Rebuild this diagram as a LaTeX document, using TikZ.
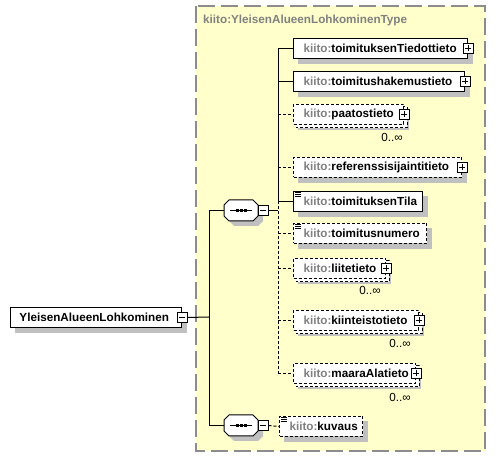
\documentclass[tikz,border=0pt]{standalone}
\usepackage{fontspec}
\setmainfont{Liberation Sans}
\usetikzlibrary{calc}
\definecolor{bgyellow}{HTML}{FFFFCC}
\definecolor{kgray}{HTML}{808080}
\definecolor{shadowc}{HTML}{C0C0C0}
\definecolor{frameg}{HTML}{8C8C8C}
\pgfdeclarelayer{back}
\pgfdeclarelayer{mid}
\pgfsetlayers{back,mid,main}
\newcommand\kel[2]{\hbox to #1pt{\hskip 10pt{\color{kgray}kiito:}#2\hfil}}
\newcommand\shd[1]{\begin{pgfonlayer}{mid}\fill[shadowc] ([shift={(5,5)}]#1.north west) rectangle ([shift={(5,5)}]#1.south east);\end{pgfonlayer}}
\newcommand\stk[1]{\begin{pgfonlayer}{mid}\fill[shadowc] ([shift={(5,5)}]#1.north west) rectangle ([shift={(5,5)}]#1.south east);
  \draw[line width=1pt, dash pattern=on 3pt off 2pt, fill=white] ([shift={(3,3)}]#1.north west) rectangle ([shift={(3,3)}]#1.south east);\end{pgfonlayer}}
\newcommand\plusat[2]{\node[pmbox] (#1) at (#2) {};
  \draw[line width=1pt] ([xshift=-3pt]#1.center) -- ([xshift=3pt]#1.center);
  \draw[line width=1pt] ([yshift=-3pt]#1.center) -- ([yshift=3pt]#1.center);}
\newcommand\minusat[2]{\node[pmbox] (#1) at (#2) {};
  \draw[line width=1pt] ([xshift=-3pt]#1.center) -- ([xshift=3pt]#1.center);}
\newcommand\lns[1]{\foreach \dy in {1.5,3.5,5.5}{\draw[line width=0.8pt] ($(#1.north west)+(2,\dy)$) -- ++(6,0);}}
\newcommand\octpath[3]{($(#1.north west)+(#2+5,#3)$) -- ($(#1.north east)+(#2-5,#3)$) -- ($(#1.north east)+(#2,#3+5)$) -- ($(#1.south east)+(#2,#3-5)$) -- ($(#1.south east)+(#2-5,#3)$) -- ($(#1.south west)+(#2+5,#3)$) -- ($(#1.south west)+(#2,#3-5)$) -- ($(#1.north west)+(#2,#3+5)$) -- cycle}
\newcommand\seqsym[1]{%
  \begin{pgfonlayer}{mid}\fill[shadowc] \octpath{#1}{5}{5};\end{pgfonlayer}
  \draw[line width=1pt, fill=white] \octpath{#1}{0}{0};
  \draw[line width=1pt] ([xshift=6pt]#1.west) -- ([xshift=-6pt]#1.east);
  \foreach \dx in {-4,0,4}{\fill ($(#1.center)+(\dx-1.5,-1.5)$) rectangle ++(3,3);}}
\begin{document}
\begin{tikzpicture}[x=1pt,y=-1pt,
  every node/.style={font=\fontsize{11.7}{13}\selectfont\bfseries},
  elem/.style={draw, fill=white, line width=1pt, anchor=north west, minimum height=20pt, inner sep=0pt},
  optelem/.style={elem, dash pattern=on 3pt off 2pt},
  pmbox/.style={draw, fill=white, line width=1pt, minimum size=10pt, inner sep=0pt},
  occ/.style={font=\fontsize{11.7}{13}\selectfont, anchor=east, inner sep=0pt},
  seqn/.style={minimum width=34pt, minimum height=21pt, inner sep=0pt, outer sep=0pt},
  conn/.style={line width=1pt},
  dconn/.style={line width=1pt, dash pattern=on 3pt off 2pt}]
\useasboundingbox (0,0) rectangle (496,457);
\begin{pgfonlayer}{back}
\fill[white] (0,0) rectangle (496,457);
\draw[fill=bgyellow, draw=frameg, line width=1.5pt, dash pattern=on 17pt off 6pt] (196,6) rectangle (485,451);
\end{pgfonlayer}
\node[anchor=west, inner sep=0pt, text=kgray] (ttl) at (203,20) {kiito:YleisenAlueenLohkominenType};

% root
\node[elem] (root) at (10,307) {\hbox to 171pt{\hskip 9pt YleisenAlueenLohkominen\hfil}};
\shd{root}
\minusat{rootm}{root.east}

% sequences
\node[seqn] (s1) at (241,210.5) {};
\seqsym{s1}
\minusat{s1m}{[xshift=5pt]s1.east}
\node[seqn] (s2) at (241,425.5) {};
\seqsym{s2}
\minusat{s2m}{[xshift=5pt]s2.east}

% elements
\node[elem] (e1) at (293,38) {\kel{174}{toimituksenTiedottieto}};
\shd{e1}\plusat{e1p}{e1.east}
\node[elem] (e2) at (293,71) {\kel{171}{toimitushakemustieto}};
\shd{e2}\plusat{e2p}{e2.east}
\node[optelem] (e3) at (293,104) {\kel{110}{paatostieto}};
\stk{e3}\plusat{e3p}{e3.east}
\node[occ] (e3o) at (403,137) {0..∞};
\node[optelem] (e4) at (293,157) {\kel{168}{referenssisijaintitieto}};
\shd{e4}\plusat{e4p}{e4.east}
\node[elem] (e5) at (293,191) {\kel{129}{toimituksenTila}};
\shd{e5}\lns{e5}
\node[optelem] (e6) at (293,223) {\kel{133}{toimitusnumero}};
\shd{e6}\lns{e6}
\node[optelem] (e7) at (293,258) {\kel{92}{liitetieto}};
\stk{e7}\plusat{e7p}{e7.east}
\node[occ] (e7o) at (381,290) {0..∞};
\node[optelem] (e8) at (293,310) {\kel{125}{kiinteistotieto}};
\stk{e8}\plusat{e8p}{e8.east}
\node[occ] (e8o) at (411,343) {0..∞};
\node[optelem] (e9) at (293,363) {\kel{122}{maaraAlatieto}};
\stk{e9}\plusat{e9p}{e9.east}
\node[occ] (e9o) at (411,397) {0..∞};
\node[optelem] (e10) at (279,416) {\kel{83}{kuvaus}};
\shd{e10}\lns{e10}

% connectors
\coordinate (v0) at (209,317);
\coordinate (v1) at (278,210.5);
\draw[conn] (rootm.east) -- (v0);
\draw[conn] (v0 |- s1.west) -- (v0 |- s2.west);
\draw[conn] (v0 |- s1.west) -- (s1.west);
\draw[conn] (v0 |- s2.west) -- (s2.west);
\draw[conn] (s1m.east) -- (v1);
\draw[dconn] (s2m.east) -- (e10.west);
\draw[conn] (v1 |- e1.west) -- (v1 |- e5.west);
\draw[dconn] (v1 |- e5.west) -- (v1 |- e9.west);
\draw[conn] (v1 |- e1.west) -- (e1.west);
\draw[conn] (v1 |- e2.west) -- (e2.west);
\draw[dconn] (v1 |- e3.west) -- (e3.west);
\draw[dconn] (v1 |- e4.west) -- (e4.west);
\draw[conn] (v1 |- e5.west) -- (e5.west);
\draw[dconn] (v1 |- e6.west) -- (e6.west);
\draw[dconn] (v1 |- e7.west) -- (e7.west);
\draw[dconn] (v1 |- e8.west) -- (e8.west);
\draw[dconn] (v1 |- e9.west) -- (e9.west);
\end{tikzpicture}
\end{document}
